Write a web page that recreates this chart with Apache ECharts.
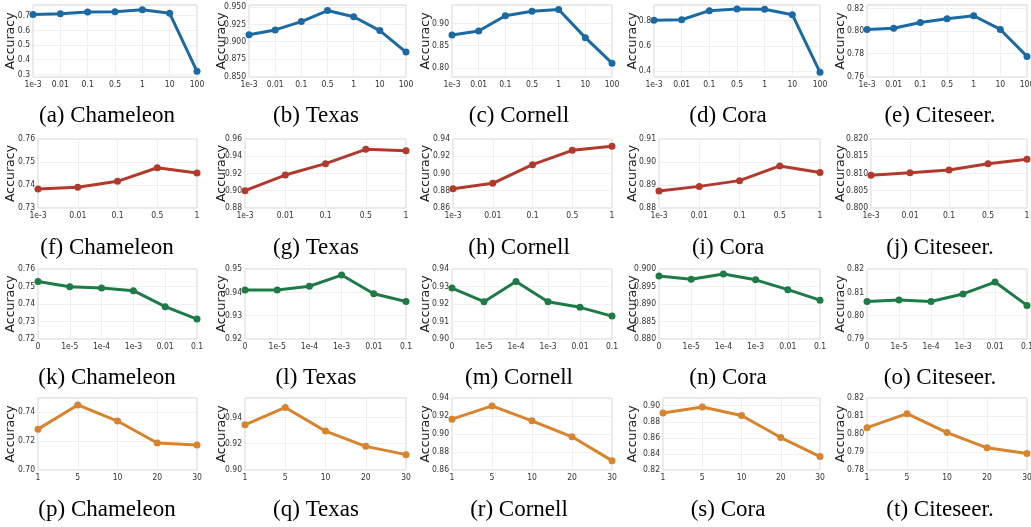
<!DOCTYPE html>
<html>
<head>
<meta charset="utf-8">
<script src="https://cdn.jsdelivr.net/npm/echarts@6/dist/echarts.min.js"></script>
<style>
  html, body { margin: 0; padding: 0; background: #fff; }
  #main { width: 1031px; height: 527px; }
</style>
</head>
<body>
<div id="main"></div>
<script>
// swept hyper-parameter values, one list per row
const catsRow1 = ['1e-3', '0.01', '0.1', '0.5', '1', '10', '100'];
const catsRow2 = ['1e-3', '0.01', '0.1', '0.5', '1'];
const catsRow3 = ['0', '1e-5', '1e-4', '1e-3', '0.01', '0.1'];
const catsRow4 = ['1', '5', '10', '20', '30'];

// accuracy values
const accA = [0.709, 0.714, 0.725, 0.727, 0.741, 0.716, 0.321];
const accB = [0.910, 0.917, 0.929, 0.945, 0.936, 0.916, 0.885];
const accC = [0.874, 0.883, 0.917, 0.927, 0.931, 0.868, 0.811];
const accD = [0.803, 0.808, 0.880, 0.893, 0.891, 0.848, 0.389];
const accE = [0.8014, 0.8025, 0.8075, 0.8108, 0.8135, 0.8014, 0.7776];

const accF = [0.7383, 0.7390, 0.7416, 0.7475, 0.7452];
const accG = [0.9001, 0.9182, 0.9314, 0.9480, 0.9465];
const accH = [0.8824, 0.8886, 0.9102, 0.9269, 0.9315];
const accI = [0.8874, 0.8894, 0.8919, 0.8983, 0.8954];
const accJ = [0.8095, 0.8102, 0.8110, 0.8128, 0.8141];

const accK = [0.7528, 0.7499, 0.7491, 0.7476, 0.7385, 0.7314];
const accL = [0.9410, 0.9410, 0.9426, 0.9474, 0.9394, 0.9361];
const accM = [0.9291, 0.9213, 0.9328, 0.9213, 0.9181, 0.9131];
const accN = [0.8980, 0.8971, 0.8986, 0.8969, 0.8941, 0.8911];
const accO = [0.8061, 0.8067, 0.8061, 0.8093, 0.8144, 0.8044];

const accP = [0.7282, 0.7449, 0.7338, 0.7186, 0.7172];
const accQ = [0.9344, 0.9476, 0.9296, 0.9180, 0.9117];
const accR = [0.9165, 0.9312, 0.9146, 0.8969, 0.8704];
const accS = [0.8908, 0.8983, 0.8879, 0.8604, 0.8367];
const accT = [0.8035, 0.8113, 0.8008, 0.7923, 0.7892];

// y tick labels
const ticksA = [0.3, 0.4, 0.5, 0.6, 0.7];
const ticksB = [0.85, 0.875, 0.9, 0.925, 0.95];
const ticksC = [0.8, 0.85, 0.9];
const ticksD = [0.4, 0.6, 0.8];
const ticksE = [0.76, 0.78, 0.8, 0.82];
const ticksF = [0.73, 0.74, 0.75, 0.76];
const ticksG = [0.88, 0.9, 0.92, 0.94, 0.96];
const ticksH = [0.86, 0.88, 0.9, 0.92, 0.94];
const ticksI = [0.88, 0.89, 0.9, 0.91];
const ticksJ = [0.8, 0.805, 0.81, 0.815, 0.82];
const ticksK = [0.72, 0.73, 0.74, 0.75, 0.76];
const ticksL = [0.92, 0.93, 0.94, 0.95];
const ticksM = [0.9, 0.91, 0.92, 0.93, 0.94];
const ticksN = [0.88, 0.885, 0.89, 0.895, 0.9];
const ticksO = [0.79, 0.8, 0.81, 0.82];
const ticksP = [0.7, 0.72, 0.74];
const ticksQ = [0.9, 0.92, 0.94];
const ticksR = [0.86, 0.88, 0.9, 0.92, 0.94];
const ticksS = [0.82, 0.84, 0.86, 0.88, 0.9];
const ticksT = [0.78, 0.79, 0.8, 0.81, 0.82];

const captions = [
  '(a) Chameleon', '(b) Texas', '(c) Cornell', '(d) Cora', '(e) Citeseer.',
  '(f) Chameleon', '(g) Texas', '(h) Cornell', '(i) Cora', '(j) Citeseer.',
  '(k) Chameleon', '(l) Texas', '(m) Cornell', '(n) Cora', '(o) Citeseer.',
  '(p) Chameleon', '(q) Texas', '(r) Cornell', '(s) Cora', '(t) Citeseer.'
];

const rowColors = ['#1b6aa3', '#b23a2c', '#1e7a47', '#d8842f'];
const rowCats = [catsRow1, catsRow2, catsRow3, catsRow4];

// panel layout
const rowTop = [5, 139, 269, 398];
const rowBottom = [77, 208, 339, 470];
const captionY = [116, 248, 378, 510];
const colRight = [197, 406, 612, 820, 1027];
const captionX = [107, 316, 519, 728, 940];
const nameX = [12, 223, 427, 634, 842];
const panelLeft = [
  [33, 249, 452, 654, 867],
  [38, 245, 453, 659, 871],
  [38, 245, 452, 659, 867],
  [38, 245, 452, 663, 867]
];

const panels = [
  [accA, ticksA, 0.282, 0.773, 1], [accB, ticksB, 0.849, 0.953, 3], [accC, ticksC, 0.780, 0.941, 2],
  [accD, ticksD, 0.352, 0.925, 1], [accE, ticksE, 0.7594, 0.823, 2],
  [accF, ticksF, 0.73, 0.76, 2], [accG, ticksG, 0.88, 0.96, 2], [accH, ticksH, 0.86, 0.94, 2],
  [accI, ticksI, 0.88, 0.91, 2], [accJ, ticksJ, 0.80, 0.82, 3],
  [accK, ticksK, 0.72, 0.76, 2], [accL, ticksL, 0.92, 0.95, 2], [accM, ticksM, 0.90, 0.94, 2],
  [accN, ticksN, 0.88, 0.90, 3], [accO, ticksO, 0.79, 0.82, 2],
  [accP, ticksP, 0.70, 0.7497, 2], [accQ, ticksQ, 0.90, 0.9548, 2], [accR, ticksR, 0.86, 0.94, 2],
  [accS, ticksS, 0.82, 0.9096, 2], [accT, ticksT, 0.78, 0.82, 2]
];

const tickFont = '"DejaVu Sans Condensed", "DejaVu Sans"';
const grids = [], xAxes = [], yAxes = [], series = [], graphics = [];

panels.forEach((p, i) => {
  const row = Math.floor(i / 5), col = i % 5;
  const left = panelLeft[row][col];
  const [acc, ticks, lo, hi, dec] = p;

  grids.push({
    left: left,
    right: 1031 - colRight[col],
    top: rowTop[row],
    height: rowBottom[row] - rowTop[row],
    show: true,
    borderColor: '#d4d4d4',
    borderWidth: 1,
    outerBoundsMode: 'none'
  });

  xAxes.push({
    type: 'category',
    gridIndex: i,
    data: rowCats[row],
    boundaryGap: false,
    axisLine: { show: false },
    axisTick: { show: false },
    axisLabel: { interval: 0, margin: 3, fontSize: 8.5, color: '#333', fontFamily: tickFont },
    splitLine: { show: true, interval: 0, lineStyle: { color: '#ececec', width: 0.8 } }
  });

  yAxes.push({
    type: 'value',
    gridIndex: i,
    min: lo,
    max: hi,
    name: 'Accuracy',
    nameLocation: 'middle',
    nameMoveOverlap: false,
    nameGap: left - nameX[col] - 5,
    nameTextStyle: { fontSize: 12.5, color: '#222', fontFamily: 'DejaVu Sans' },
    axisLine: { show: false },
    axisTick: { show: false, customValues: ticks },
    axisLabel: {
      customValues: ticks,
      margin: 3, fontSize: 8.5, color: '#333', fontFamily: tickFont,
      formatter: v => v.toFixed(dec)
    },
    splitLine: { show: true, lineStyle: { color: '#ececec', width: 0.8 } }
  });

  series.push({
    type: 'line',
    xAxisIndex: i,
    yAxisIndex: i,
    data: acc,
    symbol: 'circle',
    symbolSize: 7,
    lineStyle: { color: rowColors[row], width: 3 },
    itemStyle: { color: rowColors[row] },
    emphasis: { disabled: true }
  });

  graphics.push({
    type: 'text',
    x: captionX[col],
    y: captionY[row],
    style: {
      text: captions[i],
      font: '23px "Liberation Serif"',
      fill: '#000',
      align: 'center', verticalAlign: 'middle',
      textAlign: 'center', textVerticalAlign: 'middle'
    }
  });
});

const chart = echarts.init(document.getElementById('main'));
chart.setOption({
  animation: false,
  backgroundColor: '#fff',
  grid: grids,
  xAxis: xAxes,
  yAxis: yAxes,
  series: series,
  graphic: graphics
});
</script>
</body>
</html>
